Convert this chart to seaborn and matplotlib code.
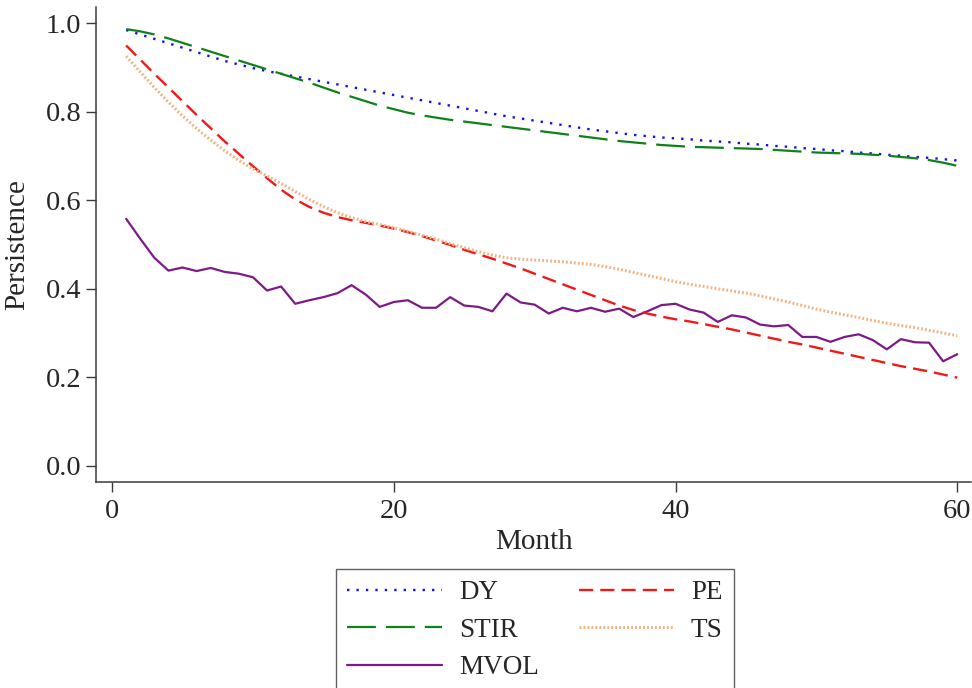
import numpy as np
import pandas as pd
import matplotlib
matplotlib.use("Agg")
import matplotlib.pyplot as plt
import seaborn as sns

months = list(range(1, 61))

dy = [0.985, 0.975, 0.965, 0.955, 0.945, 0.935, 0.925, 0.915, 0.907, 0.899,
      0.892, 0.886, 0.880, 0.874, 0.868, 0.862, 0.856, 0.850, 0.844, 0.838,
      0.832, 0.826, 0.820, 0.814, 0.808, 0.802, 0.796, 0.790, 0.785, 0.780,
      0.775, 0.770, 0.765, 0.760, 0.756, 0.752, 0.748, 0.745, 0.742, 0.740,
      0.738, 0.735, 0.733, 0.731, 0.728, 0.726, 0.723, 0.721, 0.718, 0.716,
      0.713, 0.711, 0.708, 0.706, 0.703, 0.701, 0.698, 0.696, 0.693, 0.690]

stir = [0.987, 0.982, 0.975, 0.966, 0.956, 0.946, 0.936, 0.926, 0.916, 0.906,
        0.896, 0.886, 0.876, 0.866, 0.855, 0.844, 0.834, 0.824, 0.814, 0.806,
        0.798, 0.792, 0.787, 0.782, 0.778, 0.774, 0.770, 0.766, 0.762, 0.758,
        0.754, 0.750, 0.746, 0.742, 0.738, 0.734, 0.731, 0.728, 0.725, 0.723,
        0.721, 0.720, 0.719, 0.718, 0.717, 0.716, 0.714, 0.712, 0.710, 0.708,
        0.707, 0.706, 0.705, 0.703, 0.701, 0.698, 0.695, 0.691, 0.685, 0.678]

pe = [0.950, 0.918, 0.886, 0.855, 0.824, 0.793, 0.763, 0.733, 0.705, 0.677,
      0.650, 0.624, 0.602, 0.585, 0.572, 0.562, 0.555, 0.549, 0.543, 0.536,
      0.528, 0.519, 0.509, 0.499, 0.488, 0.478, 0.468, 0.457, 0.446, 0.434,
      0.422, 0.410, 0.398, 0.386, 0.374, 0.362, 0.352, 0.344, 0.337, 0.331,
      0.326, 0.320, 0.314, 0.308, 0.301, 0.294, 0.287, 0.280, 0.274, 0.267,
      0.260, 0.253, 0.246, 0.239, 0.232, 0.225, 0.219, 0.213, 0.206, 0.199]

ts = [0.926, 0.890, 0.855, 0.822, 0.791, 0.762, 0.736, 0.712, 0.690, 0.671,
      0.655, 0.638, 0.620, 0.602, 0.586, 0.572, 0.561, 0.552, 0.545, 0.538,
      0.530, 0.521, 0.512, 0.502, 0.493, 0.484, 0.476, 0.470, 0.467, 0.465,
      0.463, 0.461, 0.458, 0.455, 0.450, 0.444, 0.437, 0.430, 0.423, 0.416,
      0.410, 0.405, 0.400, 0.395, 0.390, 0.384, 0.377, 0.370, 0.362, 0.354,
      0.347, 0.341, 0.335, 0.328, 0.322, 0.317, 0.312, 0.306, 0.300, 0.294]

mvol = [0.558, 0.513, 0.470, 0.441, 0.448, 0.440, 0.447, 0.438, 0.434, 0.426,
        0.396, 0.405, 0.366, 0.374, 0.381, 0.390, 0.408, 0.387, 0.359, 0.370,
        0.374, 0.357, 0.357, 0.381, 0.362, 0.359, 0.349, 0.389, 0.369, 0.364,
        0.344, 0.357, 0.349, 0.357, 0.348, 0.355, 0.336, 0.349, 0.363, 0.366,
        0.353, 0.346, 0.325, 0.340, 0.335, 0.319, 0.315, 0.318, 0.291, 0.291,
        0.280, 0.291, 0.297, 0.284, 0.263, 0.286, 0.279, 0.278, 0.236, 0.252]

series_names = ["DY", "STIR", "MVOL", "PE", "TS"]
x_ticks = [0, 20, 40, 60]
y_ticks = [0.0, 0.2, 0.4, 0.6, 0.8, 1.0]

sns.set_theme(style="white")
plt.rcParams["font.family"] = ["Liberation Serif", "DejaVu Serif"]

FS_LABEL = 21
FS_TICK = 20.5
FS_LEG = 19.5

fig = plt.figure(figsize=(9.72, 6.88), dpi=100)
ax = fig.add_axes([0.0988, 0.2994, 0.9005, 0.6904])

data = {"DY": dy, "STIR": stir, "MVOL": mvol, "PE": pe, "TS": ts}
styles = {
    "DY": dict(color="#1010ee", linestyle=(0, (1.0, 3.0)), linewidth=1.7),
    "STIR": dict(color="#10801a", linestyle=(0, (13.0, 4.5)), linewidth=1.6),
    "MVOL": dict(color="#7d1a86", linestyle="-", linewidth=1.6),
    "PE": dict(color="#f01818", linestyle=(0, (6.0, 3.0)), linewidth=1.7),
    "TS": dict(color="#f3b383", linestyle=(0, (0.6, 0.7)), linewidth=2.2),
}

handles = []
for name in ["DY", "STIR", "MVOL", "PE", "TS"]:
    df = pd.DataFrame({"Month": months, "Persistence": data[name]})
    sns.lineplot(data=df, x="Month", y="Persistence", ax=ax, label=name,
                 **styles[name])
    handles.append(ax.get_lines()[-1])

if ax.get_legend() is not None:
    ax.get_legend().remove()

ax.set_xlim(-1.14, 61.0)
ax.set_ylim(-0.037, 1.037)
ax.set_xticks(x_ticks)
ax.set_xticklabels([str(t) for t in x_ticks])
ax.set_yticks(y_ticks)
ax.set_yticklabels([f"{t:.1f}" for t in y_ticks])

for side in ["top", "right"]:
    ax.spines[side].set_visible(False)
for side in ["left", "bottom"]:
    ax.spines[side].set_color("#3a3a3a")
    ax.spines[side].set_linewidth(1.1)

ax.tick_params(axis="both", which="major", direction="out", length=7.5,
               width=1.0, color="#3a3a3a", labelsize=FS_TICK,
               bottom=True, left=True)
ax.tick_params(axis="x", pad=5)
ax.tick_params(axis="y", pad=3)
ax.set_xlabel("Month", fontsize=FS_LABEL, labelpad=3)
ax.set_ylabel("Persistence", fontsize=FS_LABEL, labelpad=11)

leg = fig.legend(handles=handles, labels=series_names, ncol=2,
                 loc="upper center", bbox_to_anchor=(0.5504, 0.173),
                 fontsize=FS_LEG, frameon=True, fancybox=False,
                 handlelength=3.5, handletextpad=0.63, columnspacing=1.48,
                 labelspacing=0.46, borderpad=0.42, borderaxespad=0)
leg.get_frame().set_edgecolor("#3a3a3a")
leg.get_frame().set_linewidth(1.0)

fig.savefig("out.png", dpi=100)
